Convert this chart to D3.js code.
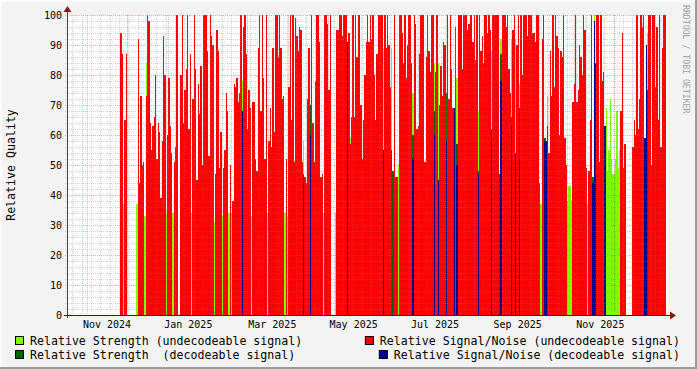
<!DOCTYPE html>
<html><head><meta charset="utf-8">
<script src="https://cdn.jsdelivr.net/npm/d3@7"></script>
<style>
html,body{margin:0;padding:0;background:#f3f3f3;}
svg{display:block;}
text{font-family:"DejaVu Sans Mono",monospace;white-space:pre;}
</style></head><body>
<svg id="c" width="697" height="369"></svg>
<script>
// ---- data (daily values, day index = days since dayZero) ----
const dayZero = [2024, 9, 17];      // 2024-10-17
const spanDays = 450;
const snrFirstDay = 40;
// Relative Signal/Noise (undecodeable signal), one value per day from snrFirstDay
const snrUndecodeable = [
  94,87,0,65,87,0,0,0,0,0,            // 40-49
  0,0,0,92,44,73,50,51,0,73,          // 50-59
  100,98,64,55,63,66,80,52,64,61,     // 60-69
  39,58,93,80,0,60,79,63,54,0,        // 70-79
  51,56,100,0,0,80,100,64,75,82,      // 80-89
  100,62,87,0,72,100,82,45,77,67,     // 90-99
  83,50,100,100,100,88,53,100,93,90,  // 100-109
  0,47,95,88,49,61,0,49,55,74,        // 110-119
  68,0,50,0,38,77,76,79,71,74,        // 120-129
  100,0,96,100,87,62,75,69,0,71,      // 130-139
  71,52,48,89,100,68,100,79,52,100,   // 140-149
  0,58,69,56,89,61,100,100,86,100,    // 150-159
  89,72,73,0,52,0,76,100,65,100,      // 160-169
  51,99,93,88,96,95,51,0,46,44,       // 170-179
  72,89,0,100,64,51,78,100,100,91,    // 180-189
  46,47,0,100,100,97,75,100,0,0,      // 190-199
  0,0,95,95,100,100,93,100,100,100,   // 200-209
  0,94,57,66,100,66,100,86,100,100,   // 210-219
  70,52,65,80,91,100,91,100,92,100,   // 220-229
  80,65,87,100,100,100,100,0,100,89,  // 230-239
  100,90,76,0,0,100,46,46,0,100,      // 240-249
  100,94,84,100,79,90,100,100,84,0,   // 250-259
  100,97,62,63,87,100,100,100,51,86,  // 260-269
  100,88,81,100,100,0,81,100,0,70,    // 270-279
  83,73,91,90,0,100,72,100,82,69,     // 280-289
  0,96,0,100,100,100,82,100,100,100,  // 290-299
  95,97,100,100,91,100,85,100,0,100,  // 300-309
  88,93,84,100,100,94,100,95,0,100,   // 310-319
  100,100,100,100,0,0,100,100,100,96, // 320-329
  100,82,74,0,95,100,0,90,100,0,      // 330-339
  100,80,100,100,100,93,100,100,100,94, // 340-349
  94,91,100,100,44,0,92,100,0,0,      // 350-359
  0,54,88,73,100,76,100,93,89,60,     // 360-369
  88,86,100,59,50,0,0,0,0,71,         // 370-379
  77,100,71,75,90,86,80,100,95,49,    // 380-389
  0,48,65,100,0,0,0,100,100,51,       // 390-399
  100,78,81,0,0,0,0,0,0,0,            // 400-409
  0,0,0,0,0,68,94,49,57,0,            // 410-419
  0,0,0,0,56,65,60,100,62,72,         // 420-429
  100,96,100,0,0,0,100,100,50,100,    // 430-439
  100,76,96,65,100,56,89,100,100      // 440-448
];
// Relative Strength (undecodeable signal): [day, value]
const strengthUndecodeable = [
  [42,37],[52,37],[58,33],[59,84],[74,34],[79,34],[93,34],[110,31],[116,33],[121,34],
  [123,34],[131,78],[138,33],[150,34],[163,34],[165,33],[177,58],[192,34],[201,34],[212,59],
  [237,89],[243,89],[248,50],[259,74],[275,84],[278,84],[292,79],[308,68],[318,88],[325,92],
  [333,92],[336,92],[339,77],[355,37],[360,73],[375,38],[376,43],[377,43],[378,38],[390,37],
  [395,100],[404,69],[405,48],[406,55],[407,72],[408,52],[409,47],[410,47],[411,52],[412,68],
  [413,49],[414,55],[435,94]
];
// Relative Strength (decodeable signal): [day, value]
const strengthDecodeable = [
  [177,47],[182,70],[243,55],[244,48],[259,60],[275,68],[284,74],[292,57],[308,48],[318,62],
  [324,47],[325,87],[333,66],[339,69],[358,59],[360,63],[394,46],[435,75]
];
// Relative Signal/Noise (decodeable signal): [day, value]
const snrDecodeable = [
  [131,68],[177,44],[182,60],[210,91],[237,55],[259,52],[275,60],[278,45],[284,58],[290,69],
  [292,50],[308,47],[318,58],[325,78],[333,63],[336,54],[339,52],[358,58],[359,58],[394,44],
  [395,98],[396,84],[403,63],[433,59],[434,90]
];
const yTicks = [0,10,20,30,40,50,60,70,80,90,100];
// x label centres
const xLabelDates = ["2024-11-16","2025-01-16","2025-03-20","2025-05-20","2025-07-20","2025-09-20","2025-11-21"];
const legendItems = [
  {label:"Relative Strength (undecodeable signal)", color:"#80ff00"},
  {label:"Relative Signal/Noise (undecodeable signal)", color:"#ff0000"},
  {label:"Relative Strength  (decodeable signal)", color:"#006400"},
  {label:"Relative Signal/Noise (decodeable signal)", color:"#000090"}
];

// ---- layout ----
const L = 67, R = 667, T = 15, B = 315;
const svg = d3.select("#c");
const t0 = new Date(Date.UTC(dayZero[0], dayZero[1], dayZero[2]));
const dayDate = d => d3.utcDay.offset(t0, d);
const x = d3.scaleUtc().domain([t0, dayDate(spanDays)]).range([L, R]);
const y = d3.scaleLinear().domain([0, 100]).range([B, T]);

// background + frame shading
svg.append("rect").attr("width",697).attr("height",369).attr("fill","#f3f3f3");
svg.append("rect").attr("x",0).attr("y",0).attr("width",697).attr("height",2).attr("fill","#fcfcfc");
svg.append("rect").attr("x",0).attr("y",0).attr("width",2).attr("height",369).attr("fill","#fcfcfc");
svg.append("rect").attr("x",695).attr("y",0).attr("width",2).attr("height",369).attr("fill","#9c9c9c");
svg.append("rect").attr("x",0).attr("y",367).attr("width",697).attr("height",2).attr("fill","#9c9c9c");
// canvas
svg.append("rect").attr("x",L).attr("y",T).attr("width",R-L).attr("height",B-T).attr("fill","#ffffff");

const plot = svg.append("g").attr("shape-rendering","crispEdges");
function bars(pairs, color) {
  plot.append("g").selectAll("rect").data(pairs.filter(p => p[1] > 0)).join("rect")
    .attr("x", p => x(dayDate(p[0])))
    .attr("width", p => x(dayDate(p[0] + 1)) - x(dayDate(p[0])))
    .attr("y", p => y(p[1]))
    .attr("height", p => y(0) - y(p[1]))
    .attr("fill", color);
}
const snrPairs = snrUndecodeable.map((v, i) => [snrFirstDay + i, v]);
bars(strengthUndecodeable, legendItems[0].color);
bars(snrPairs, legendItems[1].color);
bars(strengthDecodeable, legendItems[2].color);
bars(snrDecodeable, legendItems[3].color);

// grid on top
const grid = svg.append("g").attr("shape-rendering","crispEdges");
const minorCol = "rgba(130,130,130,0.35)", majorCol = "rgba(225,60,60,0.4)";
d3.range(2, 101, 2).forEach(v => {
  const major = v % 10 === 0;
  grid.append("line").attr("x1", L-2).attr("x2", R).attr("y1", y(v)+0.5).attr("y2", y(v)+0.5)
    .attr("stroke", major ? majorCol : minorCol).attr("stroke-dasharray","1,1");
});
const weeks = d3.utcMonday.range(x.domain()[0], x.domain()[1]);
weeks.forEach(w => {
  grid.append("line").attr("x1", Math.round(x(w))+0.5).attr("x2", Math.round(x(w))+0.5)
    .attr("y1", T).attr("y2", B+2).attr("stroke", minorCol).attr("stroke-dasharray","1,1");
});
const months = d3.utcMonth.range(d3.utcMonth.ceil(x.domain()[0]), x.domain()[1]);
months.forEach(m => {
  grid.append("line").attr("x1", Math.round(x(m))+0.5).attr("x2", Math.round(x(m))+0.5)
    .attr("y1", T).attr("y2", B+2).attr("stroke", majorCol).attr("stroke-dasharray","1,1");
});

// axes
const axisCol = "#404040";
svg.append("line").attr("x1", L+0.5).attr("x2", L+0.5).attr("y1", B+3).attr("y2", 9).attr("stroke", axisCol);
svg.append("line").attr("x1", L-3).attr("x2", 672).attr("y1", B+0.5).attr("y2", B+0.5).attr("stroke", "#23235a");
svg.append("path").attr("d", `M${L-3.5},${12} L${L+0.5},${6} L${L+4.5},${12} Z`).attr("fill", "#8b1a1a");
svg.append("path").attr("d", `M${670},${B-3.5} L${676},${B+0.5} L${670},${B+4.5} Z`).attr("fill", "#8b1a1a");

// y tick labels
svg.append("g").selectAll("text").data(yTicks).join("text")
  .attr("x", 62).attr("y", v => y(v)).attr("dy","0.35em")
  .attr("text-anchor","end").attr("font-size","10px").attr("fill","#000").text(v => v);
// x labels
const parseD = d3.utcParse("%Y-%m-%d"), fmt = d3.utcFormat("%b %Y");
svg.append("g").selectAll("text").data(xLabelDates.map(parseD)).join("text")
  .attr("x", m => x(m)).attr("y", 328)
  .attr("text-anchor","middle").attr("font-size","10px").attr("fill","#000").text(m => fmt(m));

// axis title
svg.append("text").attr("transform","translate(15,165) rotate(-90)").attr("text-anchor","middle")
  .attr("font-size","11.6px").attr("fill","#000").text("Relative Quality");
// watermark
svg.append("text").attr("transform","translate(683,5) rotate(90)").attr("text-anchor","start")
  .attr("font-size","8.2px").attr("fill","#a0a0a0").text("RRDTOOL / TOBI OETIKER");

// legend
const lg = svg.append("g");
function legendEntry(item, xPos, yPos, alignRight) {
  const t = lg.append("text").attr("y", yPos).attr("dy","0.35em").attr("font-size","11.6px")
    .attr("fill","#000").attr("xml:space","preserve").text(item.label);
  let tx = xPos;
  if (alignRight) { tx = xPos - t.node().getComputedTextLength(); }
  t.attr("x", tx);
  lg.append("rect").attr("x", tx - 14.5).attr("y", yPos - 4.5).attr("width", 8).attr("height", 8)
    .attr("fill", item.color).attr("stroke","#000").attr("stroke-width",1);
}
legendEntry(legendItems[0], 30, 341, false);
legendEntry(legendItems[1], 680, 341, true);
legendEntry(legendItems[2], 30, 355, false);
legendEntry(legendItems[3], 680, 355, true);
</script>
</body></html>
